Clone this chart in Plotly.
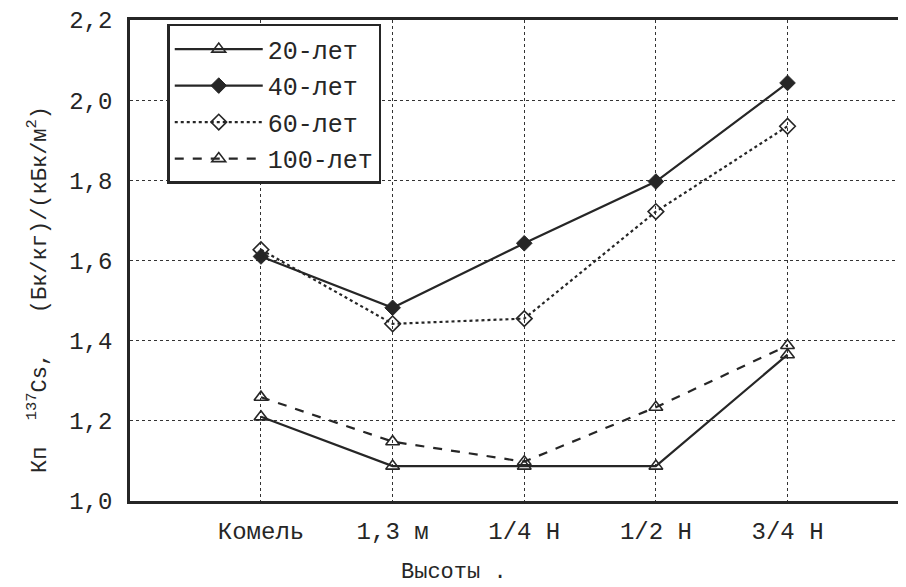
import plotly.graph_objects as go

categories = ["Комель", "1,3 м", "1/4 Н", "1/2 Н", "3/4 Н"]
series_names = ["20-лет", "40-лет", "60-лет", "100-лет"]
v20 = [1.21, 1.087, 1.087, 1.087, 1.365]
v40 = [1.61, 1.482, 1.643, 1.797, 2.043]
v60 = [1.627, 1.442, 1.455, 1.722, 1.935]
v100 = [1.259, 1.148, 1.098, 1.234, 1.388]
ytick_vals = [1.0, 1.2, 1.4, 1.6, 1.8, 2.0, 2.2]
ytick_text = ["1,0", "1,2", "1,4", "1,6", "1,8", "2,0", "2,2"]
x_title = "Высоты ."
y_title = "Кп  <sup>137</sup>Cs,   (Бк/кг)/(кБк/м<sup>2</sup>)"

FONT = "Liberation Mono, Courier New, monospace"
INK = "#262626"

xidx = list(range(len(categories)))
styles = [
    (v20, "solid", dict(symbol="triangle-up-open", size=12, color=INK, line=dict(width=1.6, color=INK))),
    (v40, "solid", dict(symbol="diamond", size=12, color=INK, line=dict(width=1, color=INK))),
    (v60, "dot", dict(symbol="diamond-open", size=12, color=INK, line=dict(width=1.6, color=INK))),
    (v100, "dash", dict(symbol="triangle-up-open", size=12, color=INK, line=dict(width=1.6, color=INK))),
]

fig = go.Figure()
for name, (vals, dash, mk) in zip(series_names, styles):
    fig.add_trace(go.Scatter(
        x=xidx, y=vals, name=name, mode="lines+markers",
        line=dict(color=INK, width=2.2, dash=dash),
        marker=mk, legendgroup=name,
    ))

fig.update_layout(
    width=898, height=579,
    margin=dict(l=122, r=0, t=12, b=86),
    paper_bgcolor="white", plot_bgcolor="white",
    font=dict(family=FONT, color=INK, size=24),
    showlegend=True,
    legend=dict(
        x=0.048, y=0.992, xanchor="left", yanchor="top",
        bgcolor="white", bordercolor=INK, borderwidth=2.5,
        font=dict(family=FONT, size=25, color=INK),
        tracegroupgap=1, itemwidth=88,
    ),
    xaxis=dict(
        range=[-0.995, 4.9], tickmode="array", tickvals=xidx, ticktext=categories,
        showgrid=True, gridcolor="#333", griddash="dot", gridwidth=1,
        showline=True, linecolor=INK, linewidth=2.5, mirror=True,
        ticks="", ticklabelstandoff=6, zeroline=False,
        tickfont=dict(family=FONT, size=24),
    ),
    yaxis=dict(
        range=[1.0, 2.2], tickmode="array", tickvals=ytick_vals, ticktext=ytick_text,
        showgrid=True, gridcolor="#333", griddash="dot", gridwidth=1,
        showline=True, linecolor=INK, linewidth=2.5, mirror=False,
        ticks="", ticklabelstandoff=10, zeroline=False,
        tickfont=dict(family=FONT, size=24),
    ),
    annotations=[
        dict(text=x_title, xref="paper", yref="paper", x=0.418, y=-0.148,
             xanchor="center", yanchor="middle", showarrow=False,
             font=dict(family=FONT, size=22, color=INK)),
        dict(text=y_title, xref="paper", yref="paper", x=-0.119, y=0.44,
             xanchor="center", yanchor="middle", showarrow=False, textangle=-90,
             font=dict(family=FONT, size=22, color=INK)),
    ],
)

fig.write_html("out.html")
